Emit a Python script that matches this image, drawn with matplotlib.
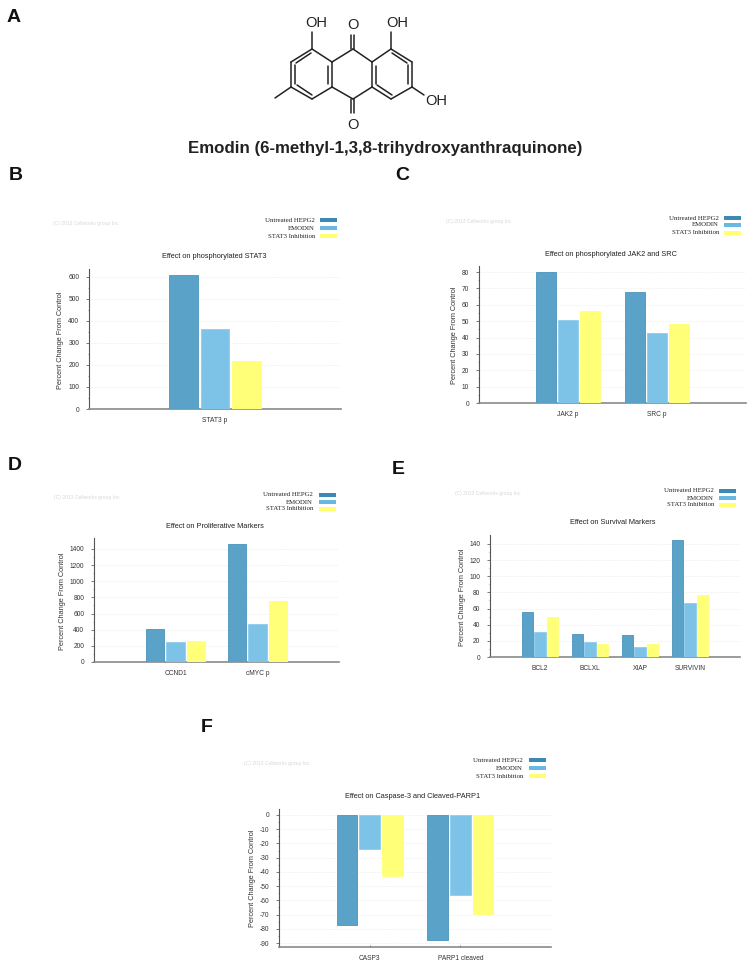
"""Emodin figure: structure on top, five bar chart panels below."""

import matplotlib

matplotlib.use("Agg")
import matplotlib.pyplot as plt
import numpy as np
from matplotlib.patches import Rectangle

plt.rcParams["font.family"] = ["Liberation Sans", "DejaVu Sans"]

W, H = 756, 967
SERIF = "Liberation Serif"
WATERMARK = "(C) 2013 Cellworks group Inc"

SERIES = ["Untreated HEPG2", "EMODIN", "STAT3 Inhibition"]
FILLS = ["#5ba2c8", "#7dc3e8", "#ffff78"]
EDGES = ["#4a94bd", "#8fcdee", "#ffff78"]
LEGEND_COLORS = ["#3b8ab4", "#68b8e0", "#ffff70"]

# panel B
b_labels = ["STAT3 p"]
b_untreated = [608]
b_emodin = [365]
b_stat3 = [220]

# panel C
c_labels = ["JAK2 p", "SRC p"]
c_untreated = [80, 68]
c_emodin = [51, 42.5]
c_stat3 = [56, 48]

# panel D
d_labels = ["CCND1", "cMYC p"]
d_untreated = [410, 1465]
d_emodin = [250, 465]
d_stat3 = [265, 755]

# panel E
e_labels = ["BCL2", "BCLXL", "XIAP", "SURVIVIN"]
e_untreated = [56, 28, 27, 145]
e_emodin = [31, 18, 12, 67]
e_stat3 = [49, 16, 16, 77]

# panel F
f_labels = ["CASP3", "PARP1 cleaved"]
f_untreated = [-77.5, -88]
f_emodin = [-24, -56]
f_stat3 = [-43, -69.5]

fig = plt.figure(figsize=(W / 100, H / 100), dpi=100, facecolor="white")

# overlay in pixel coordinates for the structure, labels and legends
page = fig.add_axes([0, 0, 1, 1], zorder=5)
page.set_xlim(0, W)
page.set_ylim(H, 0)
page.axis("off")


def draw_panel(box, labels, groups, ylim, ticks, title, title_xy, ylabel_xy, legend_xy, mark_xy):
    left, right, bottom, top = box
    ax = fig.add_axes([left / W, 1 - bottom / H, (right - left) / W, (bottom - top) / H])
    ax.patch.set_alpha(0)
    x = np.arange(len(labels))
    for i, values in enumerate(groups):
        ax.bar(x + (i - 1) * 0.25, values, width=0.225, color=FILLS[i],
               edgecolor=EDGES[i], linewidth=0.6, zorder=3)
    ax.set_xlim(-1, len(labels))
    ax.set_ylim(*ylim)
    ax.set_xticks(x)
    ax.set_xticklabels(labels, fontsize=4.8, color="#333333")
    ax.set_yticks(ticks)
    ax.set_yticklabels([str(t) for t in ticks], fontsize=4.8, color="#333333")
    ax.set_yticks((np.array(ticks[:-1]) + np.array(ticks[1:])) / 2, minor=True)
    # only the negative panel shows small marks at the categories
    if ylim[0] < 0:
        ax.tick_params(axis="x", length=1.5, width=0.5, direction="in", pad=6, color="#444444")
    else:
        ax.tick_params(axis="x", length=0, pad=6)
    ax.tick_params(axis="y", length=2, width=0.5, pad=5, color="#444444", direction="out")
    ax.tick_params(axis="y", which="minor", length=1, width=0.4, color="#444444")
    ax.grid(axis="y", linestyle=":", linewidth=0.4, color="#dddddd", zorder=0)
    for side in ["top", "right"]:
        ax.spines[side].set_visible(False)
    ax.spines["left"].set_color("#555555")
    ax.spines["left"].set_linewidth(0.8)
    ax.spines["bottom"].set_color("#8a8a8a")
    ax.spines["bottom"].set_linewidth(1.2)

    page.text(*title_xy, title, fontsize=5.3, color="#222222", ha="center", va="center")
    page.text(*ylabel_xy, "Percent Change From Control", fontsize=5.3, color="#333333",
              rotation=90, ha="center", va="center")
    page.text(*mark_xy, WATERMARK, fontsize=3.6, color="#d8d8d8", ha="left", va="center")

    text_right, swatch_left, rows = legend_xy
    for name, color, row in zip(SERIES, LEGEND_COLORS, rows):
        page.text(text_right, row, name, fontsize=4.9, family=SERIF, color="#222222", ha="right", va="center")
        page.add_patch(Rectangle((swatch_left, row - 2), 17, 4, color=color, lw=0))


draw_panel((89, 341, 409, 269), b_labels, [b_untreated, b_emodin, b_stat3], (0, 636),
           [0, 100, 200, 300, 400, 500, 600], "Effect on phosphorylated STAT3",
           (214, 257), (61, 340), (315, 320, (220, 228, 236)), (53, 223))
draw_panel((479, 746, 403, 266), c_labels, [c_untreated, c_emodin, c_stat3], (0, 83.7),
           [0, 10, 20, 30, 40, 50, 60, 70, 80], "Effect on phosphorylated JAK2 and SRC",
           (611, 254), (454, 335), (719, 724, (218, 225, 233)), (446, 221))
draw_panel((94, 339, 662, 538), d_labels, [d_untreated, d_emodin, d_stat3], (0, 1536),
           [0, 200, 400, 600, 800, 1000, 1200, 1400], "Effect on Proliferative Markers",
           (215, 527), (62, 601), (313, 319, (495, 502, 509)), (54, 497))
draw_panel((490, 740, 657, 535), e_labels, [e_untreated, e_emodin, e_stat3], (0, 151),
           [0, 20, 40, 60, 80, 100, 120, 140], "Effect on Survival Markers",
           (613, 523), (462, 597), (714, 719, (491, 498, 505)), (455, 494))
draw_panel((279, 551, 947, 809), f_labels, [f_untreated, f_emodin, f_stat3], (-92.8, 4.2),
           [-90, -80, -70, -60, -50, -40, -30, -20, -10, 0], "Effect on Caspase-3 and Cleaved-PARP1",
           (413, 796), (252, 878), (523, 529, (760, 768, 776)), (244, 763))

# structure drawing
ink = {"color": "#222222", "lw": 1.1, "solid_capstyle": "round"}
bonds = [
    ((312, 49), (291, 62)), ((291, 62), (291, 87)), ((291, 87), (312, 99)),
    ((312, 99), (332, 87)), ((332, 87), (332, 62)), ((332, 62), (312, 49)),
    ((332, 62), (353, 49)), ((353, 49), (372, 62)), ((372, 62), (372, 87)),
    ((372, 87), (353, 99)), ((353, 99), (332, 87)),
    ((372, 62), (391, 49)), ((391, 49), (412, 62)), ((412, 62), (412, 87)),
    ((412, 87), (391, 99)), ((391, 99), (372, 87)),
    ((291, 87), (275, 98)), ((312, 49), (312, 32)), ((391, 49), (391, 32)),
    ((412, 87), (424, 95)),
    ((351, 49), (351, 35)), ((354, 49), (354, 35)),
    ((351, 99), (351, 113)), ((354, 99), (354, 113)),
    # inner lines of the aromatic rings
    ((295, 65), (295, 84)), ((311, 53), (296, 63)), ((312, 95), (297, 85)),
    ((328, 66), (328, 84)), ((376, 66), (376, 84)), ((392, 53), (407, 63)),
    ((392, 95), (377, 85)), ((408, 65), (408, 84)),
]
for (x0, y0), (x1, y1) in bonds:
    page.plot([x0, x1], [y0, y1], **ink)
for x, y, s in [(316, 23, "OH"), (397, 23, "OH"), (353, 25, "O"), (353, 125, "O"), (436, 101, "OH")]:
    page.text(x, y, s, fontsize=10.5, color="#222222", ha="center", va="center")
page.text(385, 149, "Emodin (6-methyl-1,3,8-trihydroxyanthraquinone)", fontsize=12.2,
          fontweight="bold", color="#222222", ha="center", va="center")

for x, y, s in [(14, 17, "A"), (16, 175, "B"), (402, 175, "C"), (15, 465, "D"), (398, 470, "E"), (207, 728, "F")]:
    page.text(x, y, s, fontsize=14, fontweight="bold", color="#111111", ha="center", va="center")

fig.savefig("out.png", dpi=100)
